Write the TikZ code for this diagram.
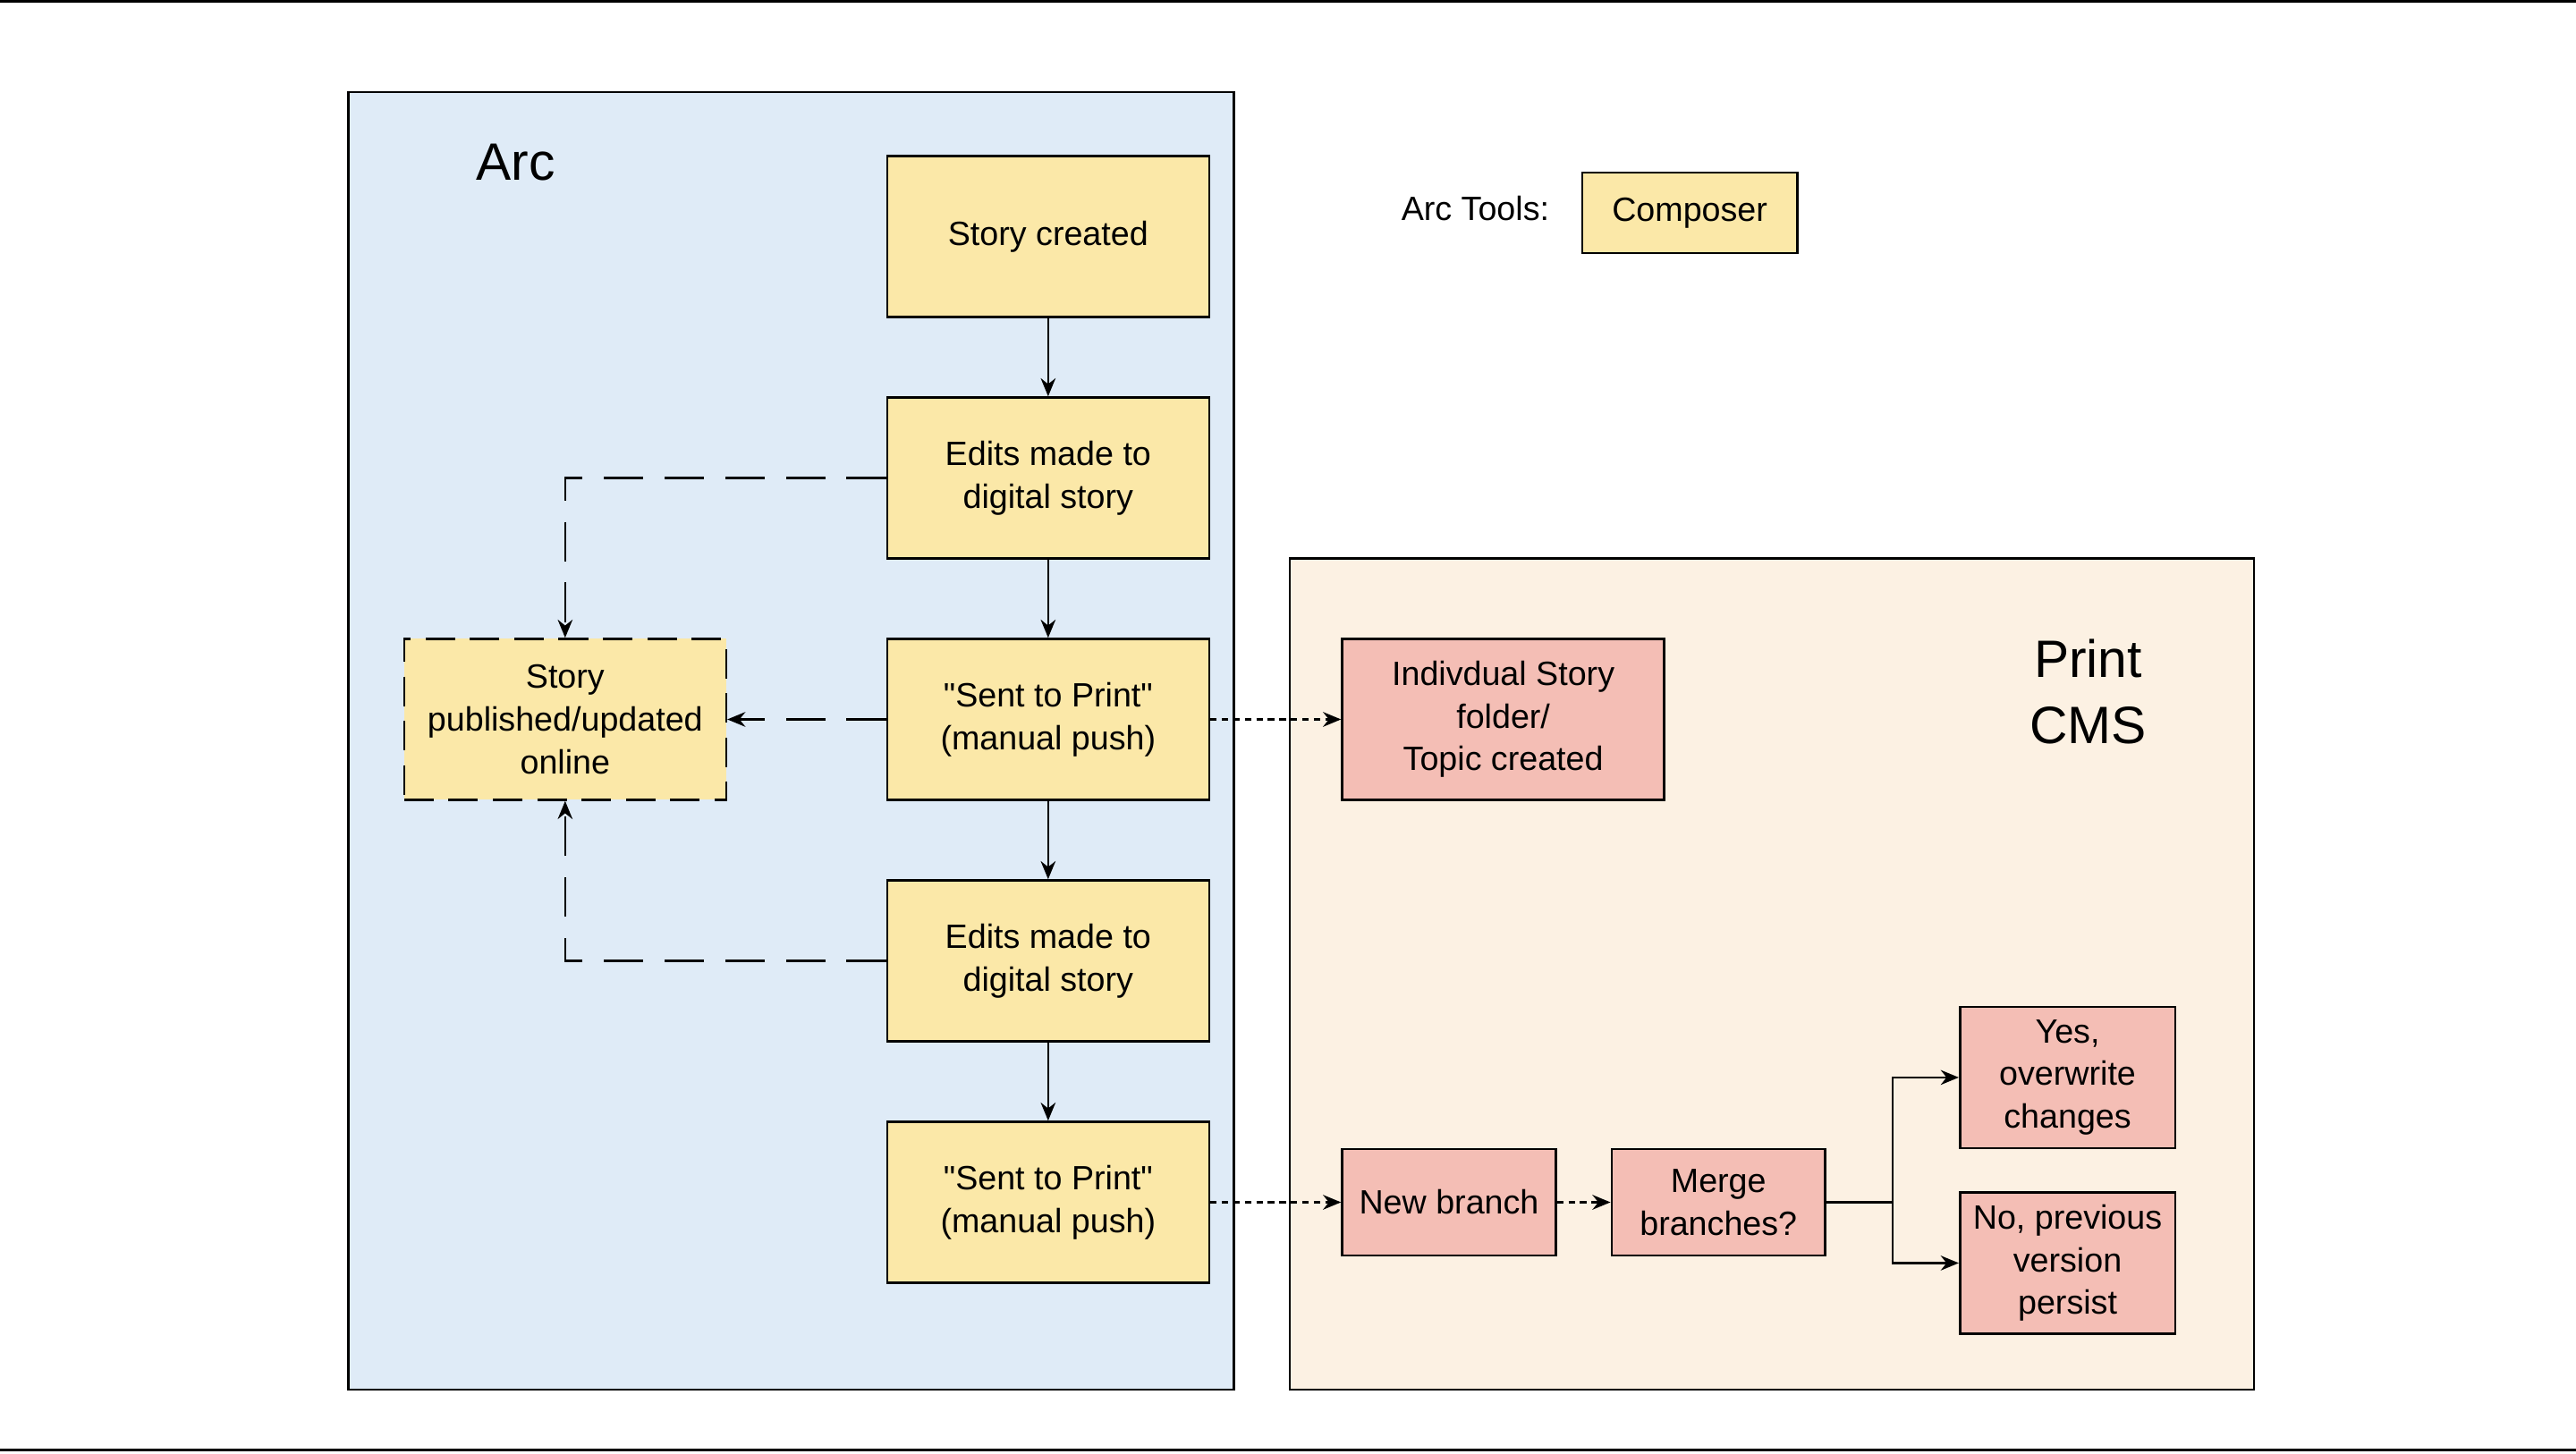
\documentclass[tikz,border=0pt]{standalone}
\usepackage{fontspec}
\setmainfont{Liberation Sans}
\usetikzlibrary{arrows.meta}
\definecolor{arcbg}{HTML}{DFEBF7}
\definecolor{cmsbg}{HTML}{FCF1E3}
\definecolor{yel}{HTML}{FBE8A8}
\definecolor{pnk}{HTML}{F4BEB5}
\begin{document}
\begin{tikzpicture}[x=1pt,y=-1pt,
  box/.style={draw=black,line width=1.4pt,align=center,inner sep=0pt,font=\fontsize{20.5}{26}\selectfont},
  yb/.style={box,fill=yel,minimum width=196pt,minimum height=98pt},
  pb/.style={box,fill=pnk},
  ar/.style={line width=1.4pt,-{Stealth[length=11pt,width=9pt]}},
  ld/.style={ar,dash pattern=on 24pt off 13pt},
  sd/.style={ar,dash pattern=on 4pt off 3pt}]
\useasboundingbox (0,0) rectangle (1568,885);
\draw[line width=1.6pt] (0,1) -- (1568,1);
\draw[line width=1.6pt] (0,883) -- (1568,883);
\draw[line width=1.4pt,fill=arcbg] (212,56) rectangle (751,846);
\draw[line width=1.4pt,fill=cmsbg] (785,340) rectangle (1372,846);
\node[font=\fontsize{32}{38}\selectfont] (arc) at (314,99) {Arc};
\node[font=\fontsize{32}{40}\selectfont,align=center] (cms) at (1271,421) {Print\\CMS};
\node[font=\fontsize{20.5}{24}\selectfont] (tools) at (898,127) {Arc Tools:};
\node[yb,minimum width=131pt,minimum height=49pt] (comp) at (1028.5,129.5) {Composer};
\node[yb] (sc) at (638,144) {Story created};
\node[yb] (e1) at (638,291) {Edits made to\\digital story};
\node[yb] (s1) at (638,438) {\textquotedbl Sent to Print\textquotedbl\\(manual push)};
\node[yb] (e2) at (638,585) {Edits made to\\digital story};
\node[yb] (s2) at (638,732) {\textquotedbl Sent to Print\textquotedbl\\(manual push)};
\node[yb,dash pattern=on 18pt off 9pt] (pub) at (344,438) {Story\\published/updated\\online};
\node[pb,minimum width=196pt,minimum height=98pt] (ind) at (915,438) {Indivdual Story\\folder/\\Topic created};
\node[pb,minimum width=130pt,minimum height=65pt] (nb) at (882,732) {New branch};
\node[pb,minimum width=130pt,minimum height=65pt] (mg) at (1046,732) {Merge\\branches?};
\node[pb,minimum width=131pt,minimum height=86pt] (yes) at (1258.5,656) {Yes,\\overwrite\\changes};
\node[pb,minimum width=131pt,minimum height=86pt] (no) at (1258.5,769) {No, previous\\version\\persist};
\draw[ar] (sc) -- (e1);
\draw[ar] (e1) -- (s1);
\draw[ar] (s1) -- (e2);
\draw[ar] (e2) -- (s2);
\draw[ld] (e1.west) -| (pub.north);
\draw[ld] (e2.west) -| (pub.south);
\draw[ld] (s1.west) -- (pub.east);
\draw[sd] (s1.east) -- (ind.west);
\draw[sd] (s2.east) -- (nb.west);
\draw[sd] (nb.east) -- (mg.west);
\coordinate (j) at (1152,732);
\draw[line width=1.4pt] (mg.east) -- (j);
\draw[ar] (j) |- (yes.west);
\draw[ar] (j) |- (no.west);
\end{tikzpicture}
\end{document}
